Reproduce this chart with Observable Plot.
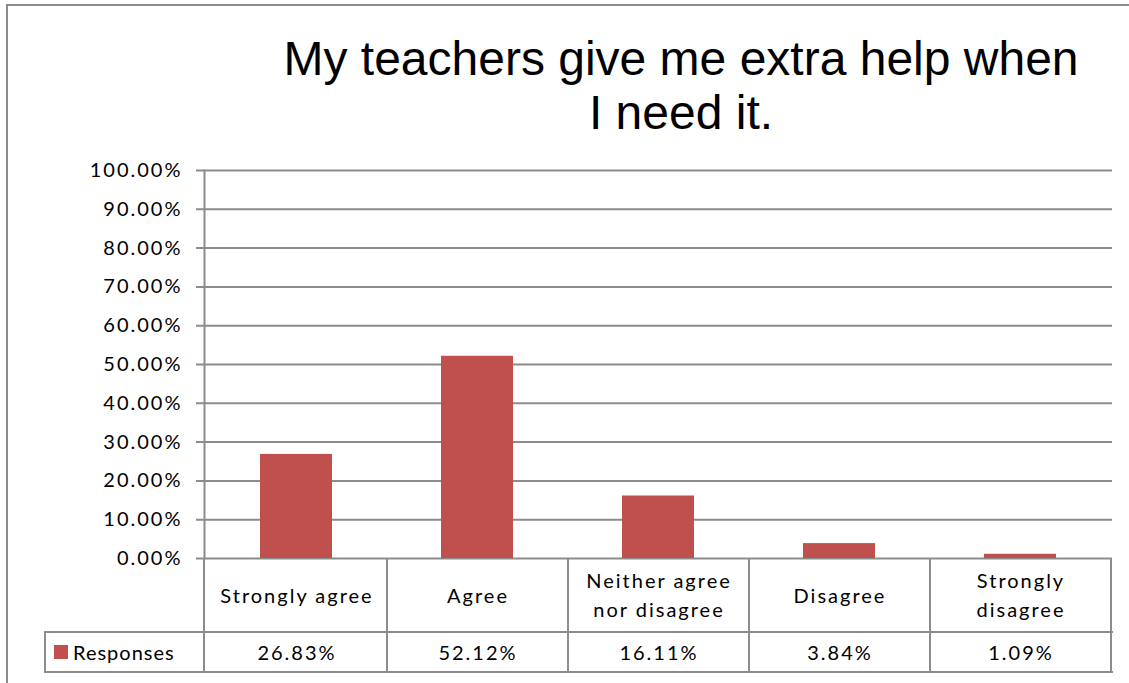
<!DOCTYPE html>
<html>
<head>
<meta charset="utf-8">
<script src="https://cdn.jsdelivr.net/npm/d3@7"></script>
<script src="https://cdn.jsdelivr.net/npm/@observablehq/plot@0.6"></script>
<style>
  html, body { margin: 0; padding: 0; background: #fff; overflow: hidden; }
  #wrap { position: relative; width: 1129px; height: 683px; overflow: hidden; }
  #border { position: absolute; left: 6px; top: 4px; width: 1140px; height: 700px; border: 2px solid #8c8c8c; box-sizing: border-box; }
  #title { position: absolute; left: 231px; width: 900px; top: 32px; text-align: center;
    font-family: "Liberation Sans", Arial, sans-serif; font-size: 48px; line-height: 54px; color: #000; }
  #chart { position: absolute; left: 0; top: 0; }
  .tbl { position: absolute; left: 0; top: 0; font-family: Lato, "Open Sans", sans-serif; font-size: 20px; letter-spacing: 2px; color: #000; }
  .cell { position: absolute; box-sizing: border-box; display: flex; align-items: center; justify-content: center; text-align: center; line-height: 29px; }
  .hl { position: absolute; background: #8c8c8c; }
</style>
</head>
<body>
<div id="wrap">
  <div id="border"></div>
  <div id="chart"></div>
  <div id="title">My teachers give me extra help when<br>I need it.</div>
  <div id="table" class="tbl"></div>
</div>
<script>
const categories = ["Strongly agree", "Agree", "Neither agree nor disagree", "Disagree", "Strongly disagree"];
const headerLabels = [["Strongly agree"], ["Agree"], ["Neither agree", "nor disagree"], ["Disagree"], ["Strongly", "disagree"]];
const responses = [0.2683, 0.5212, 0.1611, 0.0384, 0.0109];
const seriesName = "Responses";
const yTicks = [0, 0.1, 0.2, 0.3, 0.4, 0.5, 0.6, 0.7, 0.8, 0.9, 1.0];

const barColor = "#C0504D";
const gridColor = "#8c8c8c";

const data = categories.map((c, i) => ({ category: c, value: responses[i] }));

const W = 1129, H = 683;
const mLeft = 204, mRight = 17, mTop = 170, mBottom = 125;

const chart = Plot.plot({
  width: W,
  height: H,
  marginLeft: mLeft,
  marginRight: mRight,
  marginTop: mTop,
  marginBottom: mBottom,
  style: { fontFamily: "Lato, 'Open Sans', sans-serif", fontSize: "20px", letterSpacing: "2px", color: "#000", background: "transparent", overflow: "visible" },
  x: { domain: categories, paddingInner: 0.6, paddingOuter: 0.3, axis: null },
  y: { domain: [0, 1], ticks: yTicks, axis: null },
  marks: [
    Plot.ruleY(yTicks, { stroke: gridColor, strokeWidth: 2, insetLeft: -8 }),
    Plot.axisY(yTicks, { tickSize: 0, tickPadding: 22, tickFormat: d3.format(".2%"), fontSize: 20, fill: "#000", label: null }),
    Plot.frame({ anchor: "left", stroke: gridColor, strokeWidth: 2 }),
    Plot.barY(data, { x: "category", y: "value", fill: barColor })
  ]
});
document.getElementById("chart").appendChild(chart);

// data table (below plot area), columns aligned with the band scale
const xs = chart.scale("x");
const step = xs.step;
const table = document.getElementById("table");
const top0 = H - mBottom;        // 558
const rowH1 = 74, rowH2 = 40;
const leftX = 45;
const rightX = W - mRight;
function line(x, y, w, h) {
  const d = document.createElement("div");
  d.className = "hl";
  Object.assign(d.style, { left: x + "px", top: y + "px", width: w + "px", height: h + "px" });
  table.appendChild(d);
}
categories.forEach((c, i) => {
  const x0 = xs.apply(c) - (step - xs.bandwidth) / 2;
  const h = document.createElement("div");
  h.className = "cell";
  Object.assign(h.style, { left: (x0 + 1) + "px", top: top0 + "px", width: step + "px", height: rowH1 + "px" });
  h.innerHTML = headerLabels[i].join("<br>");
  table.appendChild(h);
  const v = document.createElement("div");
  v.className = "cell";
  Object.assign(v.style, { left: (x0 + 1) + "px", top: (top0 + rowH1) + "px", width: step + "px", height: rowH2 + "px" });
  v.textContent = d3.format(".2%")(responses[i]);
  table.appendChild(v);
  line(x0 + step - 1, top0, 2, rowH1 + rowH2 + 1);
});
line(mLeft - 1, top0, 2, rowH1 + rowH2 + 1);
line(leftX - 1, top0 + rowH1 - 1, 2, rowH2 + 2);
line(leftX - 1, top0 + rowH1 - 1, rightX - leftX + 2, 2);
line(leftX - 1, top0 + rowH1 + rowH2 - 1, rightX - leftX + 2, 2);
// legend cell
const lg = document.createElement("div");
lg.className = "cell";
Object.assign(lg.style, { left: leftX + "px", top: (top0 + rowH1) + "px", width: (mLeft - leftX) + "px", height: rowH2 + "px", justifyContent: "flex-start", paddingLeft: "9px", letterSpacing: "1px" });
lg.innerHTML = `<span style="display:inline-block;width:14px;height:14px;background:${barColor};margin-right:5px"></span>${seriesName}`;
table.appendChild(lg);
</script>
</body>
</html>
